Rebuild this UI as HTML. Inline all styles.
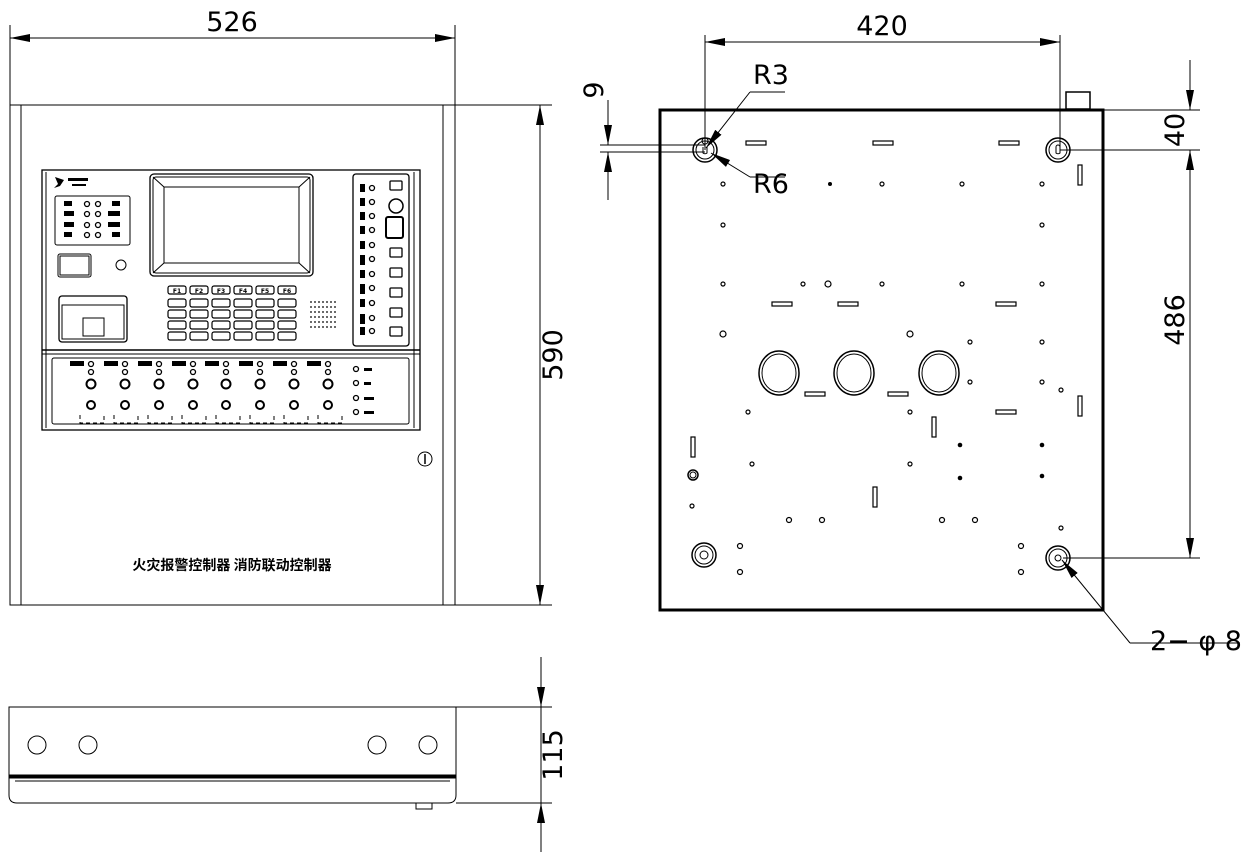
<!DOCTYPE html>
<html><head><meta charset="utf-8"><style>
html,body{margin:0;padding:0;background:#fff;}
svg{display:block;}
text{font-family:"DejaVu Sans","Liberation Sans",sans-serif;fill:#000;}
</style></head><body>
<svg width="1248" height="858" viewBox="0 0 1248 858" xmlns="http://www.w3.org/2000/svg">
<defs>
<marker id="a" viewBox="0 0 20 8" refX="20" refY="4" markerWidth="20" markerHeight="8" markerUnits="userSpaceOnUse" orient="auto"><path d="M0,0 L20,4 L0,8 z" fill="#000"/></marker>
</defs>
<g fill="none" stroke="#000" stroke-width="1">
<!-- FRONT VIEW -->
<line x1="10" y1="25" x2="10" y2="105"/><line x1="455" y1="25" x2="455" y2="105"/>
<line x1="10" y1="38" x2="455" y2="38"/>
<line x1="240" y1="38" x2="10" y2="38" marker-end="url(#a)"/>
<line x1="240" y1="38" x2="455" y2="38" marker-end="url(#a)"/>
<rect x="10" y="105" width="445" height="500"/>
<line x1="21" y1="105" x2="21" y2="605"/><line x1="443" y1="105" x2="443" y2="605"/>
<line x1="455" y1="105" x2="552" y2="105"/><line x1="455" y1="605" x2="552" y2="605"/>
<line x1="540" y1="350" x2="540" y2="105" marker-end="url(#a)"/>
<line x1="540" y1="350" x2="540" y2="605" marker-end="url(#a)"/>
<!-- panel -->
<rect x="42" y="170" width="378" height="260" stroke-width="1.3"/>
<line x1="46" y1="172" x2="46" y2="428"/><line x1="414" y1="172" x2="414" y2="428"/>
<line x1="42" y1="350" x2="420" y2="350" stroke-width="1.5"/>
<line x1="42" y1="354" x2="420" y2="354"/>
<rect x="52" y="358" width="357" height="66" rx="2"/>
<rect x="150" y="174" width="163" height="102" rx="4" stroke-width="1.3"/>
<rect x="153" y="177" width="157" height="96" rx="3"/>
<rect x="164" y="187" width="135" height="76"/>
<line x1="153" y1="177" x2="164" y2="187"/><line x1="310" y1="177" x2="299" y2="187"/>
<line x1="153" y1="273" x2="164" y2="263"/><line x1="310" y1="273" x2="299" y2="263"/>
<rect x="55" y="196" width="75" height="49" rx="2"/>
<rect x="58" y="254" width="33" height="23" rx="2"/>
<rect x="60" y="256" width="29" height="19"/>
<circle cx="121" cy="265" r="5"/>
<rect x="59" y="296" width="68" height="46" rx="3" stroke-width="1.3"/>
<rect x="62" y="305" width="62" height="34"/>
<rect x="83" y="318" width="21" height="18"/>
<rect x="353" y="174" width="56" height="172" rx="3" stroke-width="1.3"/>
<rect x="386" y="217" width="17" height="21" rx="2" stroke-width="2"/>
<circle cx="396" cy="206" r="7" stroke-width="1.5"/>
</g>
<g fill="#000" font-size="6">
<path d="M55,177 l9,3 -4,6 -6,2 4,-4 z"/>
<rect x="68" y="178" width="20" height="3"/><rect x="72" y="184" width="14" height="2"/>
</g>
<g id="kp" fill="none" stroke="#000" stroke-width="1.2">
<rect x="168" y="286" width="18" height="8" rx="2"/><rect x="190" y="286" width="18" height="8" rx="2"/><rect x="212" y="286" width="18" height="8" rx="2"/><rect x="234" y="286" width="18" height="8" rx="2"/><rect x="256" y="286" width="18" height="8" rx="2"/><rect x="278" y="286" width="18" height="8" rx="2"/>
<rect x="168" y="299" width="18" height="8" rx="2"/><rect x="190" y="299" width="18" height="8" rx="2"/><rect x="212" y="299" width="18" height="8" rx="2"/><rect x="234" y="299" width="18" height="8" rx="2"/><rect x="256" y="299" width="18" height="8" rx="2"/><rect x="278" y="299" width="18" height="8" rx="2"/>
<rect x="168" y="310" width="18" height="8" rx="2"/><rect x="190" y="310" width="18" height="8" rx="2"/><rect x="212" y="310" width="18" height="8" rx="2"/><rect x="234" y="310" width="18" height="8" rx="2"/><rect x="256" y="310" width="18" height="8" rx="2"/><rect x="278" y="310" width="18" height="8" rx="2"/>
<rect x="168" y="321" width="18" height="8" rx="2"/><rect x="190" y="321" width="18" height="8" rx="2"/><rect x="212" y="321" width="18" height="8" rx="2"/><rect x="234" y="321" width="18" height="8" rx="2"/><rect x="256" y="321" width="18" height="8" rx="2"/><rect x="278" y="321" width="18" height="8" rx="2"/>
<rect x="168" y="332" width="18" height="8" rx="2"/><rect x="190" y="332" width="18" height="8" rx="2"/><rect x="212" y="332" width="18" height="8" rx="2"/><rect x="234" y="332" width="18" height="8" rx="2"/><rect x="256" y="332" width="18" height="8" rx="2"/><rect x="278" y="332" width="18" height="8" rx="2"/>
</g>
<g font-size="6" font-weight="bold" text-anchor="middle"><text x="177" y="293">F1</text><text x="199" y="293">F2</text><text x="221" y="293">F3</text><text x="243" y="293">F4</text><text x="265" y="293">F5</text><text x="287" y="293">F6</text></g>
<!-- speaker dots -->
<g fill="#000">
<circle cx="311" cy="302" r=".9"/><circle cx="315" cy="302" r=".9"/><circle cx="319" cy="302" r=".9"/><circle cx="323" cy="302" r=".9"/><circle cx="327" cy="302" r=".9"/><circle cx="331" cy="302" r=".9"/><circle cx="335" cy="302" r=".9"/>
<circle cx="311" cy="307" r=".9"/><circle cx="315" cy="307" r=".9"/><circle cx="319" cy="307" r=".9"/><circle cx="323" cy="307" r=".9"/><circle cx="327" cy="307" r=".9"/><circle cx="331" cy="307" r=".9"/><circle cx="335" cy="307" r=".9"/>
<circle cx="311" cy="312" r=".9"/><circle cx="315" cy="312" r=".9"/><circle cx="319" cy="312" r=".9"/><circle cx="323" cy="312" r=".9"/><circle cx="327" cy="312" r=".9"/><circle cx="331" cy="312" r=".9"/><circle cx="335" cy="312" r=".9"/>
<circle cx="311" cy="317" r=".9"/><circle cx="315" cy="317" r=".9"/><circle cx="319" cy="317" r=".9"/><circle cx="323" cy="317" r=".9"/><circle cx="327" cy="317" r=".9"/><circle cx="331" cy="317" r=".9"/><circle cx="335" cy="317" r=".9"/>
<circle cx="311" cy="322" r=".9"/><circle cx="315" cy="322" r=".9"/><circle cx="319" cy="322" r=".9"/><circle cx="323" cy="322" r=".9"/><circle cx="327" cy="322" r=".9"/><circle cx="331" cy="322" r=".9"/><circle cx="335" cy="322" r=".9"/>
<circle cx="311" cy="327" r=".9"/><circle cx="315" cy="327" r=".9"/><circle cx="319" cy="327" r=".9"/><circle cx="323" cy="327" r=".9"/><circle cx="327" cy="327" r=".9"/><circle cx="331" cy="327" r=".9"/><circle cx="335" cy="327" r=".9"/>
</g>
<!-- LED rows left box -->
<g fill="none" stroke="#000" stroke-width="1.3">
<circle cx="87" cy="204" r="2.5"/><circle cx="98" cy="204" r="2.5"/><circle cx="87" cy="214" r="2.5"/><circle cx="98" cy="214" r="2.5"/><circle cx="87" cy="225" r="2.5"/><circle cx="98" cy="225" r="2.5"/><circle cx="87" cy="235" r="2.5"/><circle cx="98" cy="235" r="2.5"/>
<circle cx="372" cy="188" r="2.5"/><circle cx="372" cy="202" r="2.5"/><circle cx="372" cy="216" r="2.5"/><circle cx="372" cy="230" r="2.5"/><circle cx="372" cy="245" r="2.5"/><circle cx="372" cy="259" r="2.5"/><circle cx="372" cy="274" r="2.5"/><circle cx="372" cy="288" r="2.5"/><circle cx="372" cy="303" r="2.5"/><circle cx="372" cy="318" r="2.5"/><circle cx="372" cy="331" r="2.5"/>
<rect x="390" y="181" width="12" height="9" rx="1"/><rect x="390" y="248" width="12" height="9" rx="1"/><rect x="390" y="268" width="12" height="9" rx="1"/><rect x="390" y="288" width="12" height="9" rx="1"/><rect x="390" y="308" width="12" height="9" rx="1"/><rect x="390" y="327" width="12" height="9" rx="1"/>
</g>
<g fill="#000">
<rect x="64" y="201" width="8" height="5"/><rect x="64" y="211" width="10" height="5"/><rect x="64" y="222" width="10" height="5"/><rect x="64" y="232" width="8" height="5"/>
<rect x="112" y="201" width="8" height="5"/><rect x="108" y="211" width="12" height="5"/><rect x="108" y="222" width="12" height="5"/><rect x="112" y="232" width="8" height="5"/>
<rect x="360" y="184" width="5" height="8"/><rect x="360" y="198" width="5" height="8"/><rect x="360" y="212" width="5" height="8"/><rect x="360" y="226" width="5" height="8"/><rect x="360" y="241" width="5" height="8"/><rect x="360" y="255" width="5" height="10"/><rect x="360" y="270" width="5" height="8"/><rect x="360" y="284" width="5" height="10"/><rect x="360" y="299" width="5" height="8"/><rect x="360" y="314" width="5" height="10"/><rect x="360" y="327" width="5" height="8"/>
</g>
<!-- lower zone channels -->
<g fill="none" stroke="#000" stroke-width="1.3">
<circle cx="91" cy="364" r="2.5"/><circle cx="91" cy="372" r="2.5"/><circle cx="91" cy="384" r="4.5" stroke-width="2"/><circle cx="91" cy="405" r="4" stroke-width="2"/>
<circle cx="125" cy="364" r="2.5"/><circle cx="125" cy="372" r="2.5"/><circle cx="125" cy="384" r="4.5" stroke-width="2"/><circle cx="125" cy="405" r="4" stroke-width="2"/>
<circle cx="159" cy="364" r="2.5"/><circle cx="159" cy="372" r="2.5"/><circle cx="159" cy="384" r="4.5" stroke-width="2"/><circle cx="159" cy="405" r="4" stroke-width="2"/>
<circle cx="193" cy="364" r="2.5"/><circle cx="193" cy="372" r="2.5"/><circle cx="193" cy="384" r="4.5" stroke-width="2"/><circle cx="193" cy="405" r="4" stroke-width="2"/>
<circle cx="226" cy="364" r="2.5"/><circle cx="226" cy="372" r="2.5"/><circle cx="226" cy="384" r="4.5" stroke-width="2"/><circle cx="226" cy="405" r="4" stroke-width="2"/>
<circle cx="260" cy="364" r="2.5"/><circle cx="260" cy="372" r="2.5"/><circle cx="260" cy="384" r="4.5" stroke-width="2"/><circle cx="260" cy="405" r="4" stroke-width="2"/>
<circle cx="294" cy="364" r="2.5"/><circle cx="294" cy="372" r="2.5"/><circle cx="294" cy="384" r="4.5" stroke-width="2"/><circle cx="294" cy="405" r="4" stroke-width="2"/>
<circle cx="328" cy="364" r="2.5"/><circle cx="328" cy="372" r="2.5"/><circle cx="328" cy="384" r="4.5" stroke-width="2"/><circle cx="328" cy="405" r="4" stroke-width="2"/>
<circle cx="356" cy="369" r="2.5"/><circle cx="356" cy="383" r="2.5"/><circle cx="356" cy="398" r="2.5"/><circle cx="356" cy="412" r="2.5"/>
<path d="M80,415v8h24v-8M114,415v8h24v-8M148,415v8h24v-8M182,415v8h24v-8M216,415v8h24v-8M250,415v8h24v-8M284,415v8h24v-8M318,415v8h24v-8" stroke-dasharray="4 3" stroke-width="1"/>
</g>
<g fill="#000">
<rect x="70" y="361" width="14" height="5"/><rect x="104" y="361" width="14" height="5"/><rect x="138" y="361" width="14" height="5"/><rect x="172" y="361" width="14" height="5"/><rect x="205" y="361" width="14" height="5"/><rect x="239" y="361" width="14" height="5"/><rect x="273" y="361" width="14" height="5"/><rect x="307" y="361" width="14" height="5"/>
<rect x="364" y="368" width="8" height="3"/><rect x="364" y="382" width="7" height="3"/><rect x="364" y="397" width="10" height="3"/><rect x="364" y="411" width="10" height="3"/>
</g>
<g fill="none" stroke="#000"><circle cx="425" cy="459" r="7"/><line x1="425" y1="454" x2="425" y2="464" stroke-width="1.5"/></g>
<text x="232" y="570" font-size="14" font-weight="bold" text-anchor="middle" style="font-family:'Noto Sans CJK SC',sans-serif">火灾报警控制器 消防联动控制器</text>
<text x="232" y="31" font-size="27" text-anchor="middle">526</text>
<text transform="translate(562,355) rotate(-90)" font-size="27" text-anchor="middle">590</text>

<!-- SIDE VIEW -->
<g fill="none" stroke="#000" stroke-width="1">
<rect x="9" y="707" width="447" height="69"/>
<rect x="9" y="775" width="447" height="3" fill="#000"/>
<path d="M9,778 V795 Q9,803 17,803 H448 Q456,803 456,795 V778"/>
<line x1="15" y1="781" x2="450" y2="781"/>
<rect x="416" y="803" width="16" height="6"/>
<circle cx="37" cy="745" r="9"/><circle cx="88" cy="745" r="9"/><circle cx="377" cy="745" r="9"/><circle cx="428" cy="745" r="9"/>
<line x1="456" y1="707" x2="552" y2="707"/><line x1="456" y1="803" x2="552" y2="803"/>
<line x1="541" y1="657" x2="541" y2="707" marker-end="url(#a)"/>
<line x1="541" y1="852" x2="541" y2="803" marker-end="url(#a)"/>
<line x1="541" y1="707" x2="541" y2="803"/>
</g>
<text transform="translate(562,755) rotate(-90)" font-size="27" text-anchor="middle">115</text>

<!-- BACK VIEW -->
<g fill="none" stroke="#000" stroke-width="1">
<rect x="660" y="110" width="443" height="500" stroke-width="3"/>
<rect x="1066" y="92" width="24" height="17" stroke-width="1.5"/>
<line x1="705" y1="35" x2="705" y2="150"/><line x1="1060" y1="35" x2="1060" y2="150"/>
<line x1="880" y1="42" x2="705" y2="42" marker-end="url(#a)"/>
<line x1="880" y1="42" x2="1060" y2="42" marker-end="url(#a)"/>
<line x1="1103" y1="110" x2="1200" y2="110"/>
<line x1="1060" y1="150" x2="1200" y2="150"/>
<line x1="1063" y1="558" x2="1200" y2="558"/>
<line x1="1190" y1="60" x2="1190" y2="110" marker-end="url(#a)"/>
<line x1="1190" y1="350" x2="1190" y2="150" marker-end="url(#a)"/>
<line x1="1190" y1="350" x2="1190" y2="558" marker-end="url(#a)"/>
<line x1="600" y1="145" x2="705" y2="145"/><line x1="600" y1="152" x2="705" y2="152"/>
<line x1="608" y1="100" x2="608" y2="145" marker-end="url(#a)"/>
<line x1="608" y1="200" x2="608" y2="152" marker-end="url(#a)"/>
<line x1="785" y1="92" x2="750" y2="92"/><line x1="750" y1="92" x2="706" y2="148" marker-end="url(#a)"/>
<line x1="785" y1="177" x2="750" y2="177"/><line x1="750" y1="177" x2="711" y2="153" marker-end="url(#a)"/>
<line x1="1240" y1="643" x2="1130" y2="643"/><line x1="1130" y1="643" x2="1062" y2="560" marker-end="url(#a)"/>
<circle cx="705" cy="150" r="12" stroke-width="1.5"/><circle cx="705" cy="150" r="9"/>
<path d="M705,144 a3,3 0 1 1 0.1,0 M703,147 v6 a3,3 0 0 0 4,0 v-6"/>
<circle cx="1058" cy="150" r="12" stroke-width="1.5"/><circle cx="1058" cy="150" r="9"/>
<path d="M1056,147 v6 a3,3 0 0 0 4,0 v-6 a2,2 0 0 0 -4,0"/>
<circle cx="1058" cy="558" r="12" stroke-width="1.5"/><circle cx="1058" cy="558" r="9"/><circle cx="1058" cy="558" r="3"/>
<circle cx="704" cy="555" r="12" stroke-width="1.5"/><circle cx="704" cy="555" r="9"/><circle cx="704" cy="555" r="4"/>
<ellipse cx="779" cy="373" rx="20" ry="22" stroke-width="1.5"/><ellipse cx="779" cy="373" rx="17" ry="19"/>
<ellipse cx="854" cy="373" rx="20" ry="22" stroke-width="1.5"/><ellipse cx="854" cy="373" rx="17" ry="19"/>
<ellipse cx="939" cy="373" rx="20" ry="22" stroke-width="1.5"/><ellipse cx="939" cy="373" rx="17" ry="19"/>
<circle cx="693" cy="475" r="5" stroke-width="1.5"/><circle cx="693" cy="475" r="3"/>
<g stroke-width="1.2">
<circle cx="723" cy="184" r="2"/><circle cx="882" cy="184" r="2"/><circle cx="962" cy="184" r="2"/><circle cx="1042" cy="184" r="2"/>
<circle cx="723" cy="225" r="2"/><circle cx="1042" cy="225" r="2"/>
<circle cx="723" cy="284" r="2"/><circle cx="803" cy="284" r="2"/><circle cx="828" cy="284" r="3"/><circle cx="882" cy="284" r="2"/><circle cx="962" cy="284" r="2"/><circle cx="1042" cy="284" r="2"/>
<circle cx="723" cy="334" r="3"/><circle cx="910" cy="334" r="3"/><circle cx="970" cy="342" r="2"/><circle cx="1042" cy="342" r="2"/>
<circle cx="970" cy="382" r="2"/><circle cx="1042" cy="382" r="2"/><circle cx="1061" cy="390" r="2"/>
<circle cx="748" cy="412" r="2"/><circle cx="910" cy="412" r="2"/>
<circle cx="752" cy="464" r="2"/><circle cx="910" cy="464" r="2"/>
<circle cx="692" cy="506" r="2"/>
<circle cx="789" cy="520" r="2.5"/><circle cx="822" cy="520" r="2.5"/><circle cx="942" cy="520" r="2.5"/><circle cx="975" cy="520" r="2.5"/>
<circle cx="740" cy="546" r="2.5"/><circle cx="740" cy="572" r="2.5"/><circle cx="1021" cy="546" r="2.5"/><circle cx="1021" cy="572" r="2.5"/>
<circle cx="1061" cy="528" r="2"/>
</g>
<g stroke-width="1.2">
<rect x="746" y="141" width="20" height="4"/><rect x="873" y="141" width="20" height="4"/><rect x="999" y="141" width="20" height="4"/>
<rect x="772" y="302" width="20" height="4"/><rect x="838" y="302" width="20" height="4"/><rect x="996" y="302" width="20" height="4"/>
<rect x="805" y="392" width="20" height="4"/><rect x="888" y="392" width="20" height="4"/><rect x="996" y="410" width="20" height="4"/>
<rect x="1078" y="165" width="4" height="20"/><rect x="1078" y="396" width="4" height="20"/><rect x="932" y="417" width="4" height="20"/><rect x="691" y="437" width="4" height="20"/><rect x="873" y="487" width="4" height="20"/>
</g>
</g>
<g fill="#000"><circle cx="830" cy="184" r="2"/><circle cx="960" cy="445" r="2.3"/><circle cx="1042" cy="445" r="2.3"/><circle cx="960" cy="478" r="2.3"/><circle cx="1042" cy="476" r="2.3"/></g>
<text x="882" y="35" font-size="27" text-anchor="middle">420</text>
<text x="753" y="84" font-size="27">R3</text>
<text x="753" y="193" font-size="27">R6</text>
<text transform="translate(603,90) rotate(-90)" font-size="27" text-anchor="middle">9</text>
<text transform="translate(1184,130) rotate(-90)" font-size="27" text-anchor="middle">40</text>
<text transform="translate(1184,320) rotate(-90)" font-size="27" text-anchor="middle">486</text>
<text x="1150" y="650" font-size="27">2− φ 8</text>
</svg>
</body></html>
